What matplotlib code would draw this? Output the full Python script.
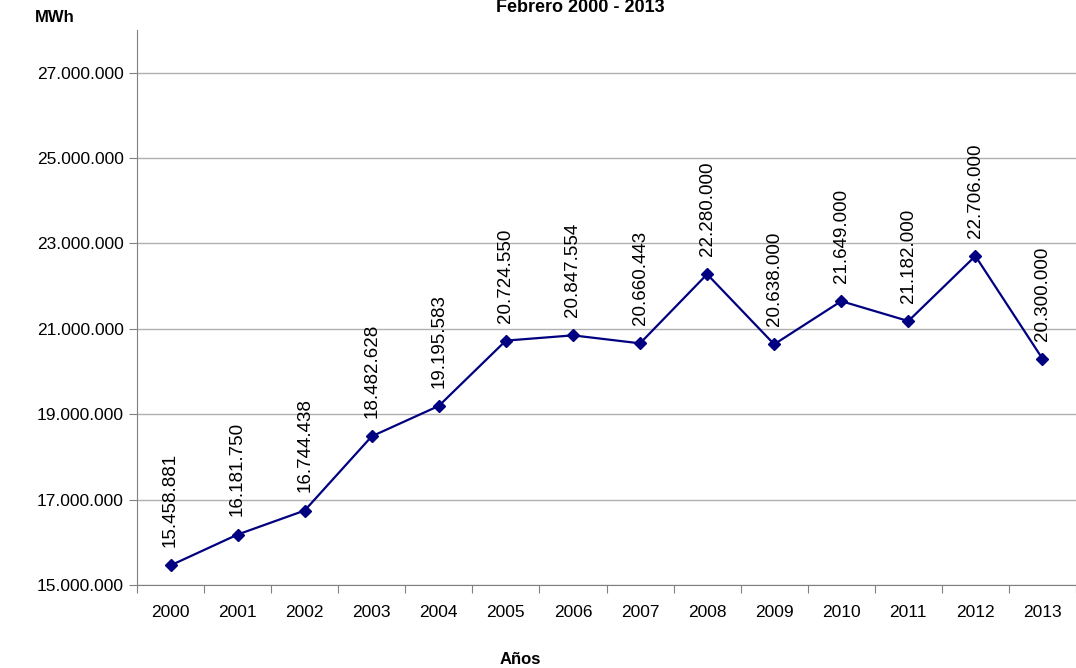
import matplotlib
matplotlib.use("Agg")
import matplotlib.pyplot as plt

years = ["2000","2001","2002","2003","2004","2005","2006","2007","2008","2009","2010","2011","2012","2013"]
values = [15458881,16181750,16744438,18482628,19195583,20724550,20847554,20660443,22280000,20638000,21649000,21182000,22706000,20300000]
yticks = [15000000,17000000,19000000,21000000,23000000,25000000,27000000]

def fmt(v):
    return f"{v:,}".replace(",", ".")

plt.rcParams['font.family'] = ['Liberation Sans', 'DejaVu Sans']
W, H = 1076, 668
fig = plt.figure(figsize=(W/100, H/100), dpi=100)
ax = fig.add_axes([137/W, 1-585/H, 1-137/W, (585-30)/H])
x = list(range(len(years)))
ax.plot(x, values, color='#000080', lw=1.6, marker='D', ms=6.5, zorder=3)
for xi, v in zip(x, values):
    ax.annotate(fmt(v), (xi, v), xytext=(0, 13), textcoords='offset points',
                rotation=90, ha='center', va='bottom', fontsize=13.5)
ax.set_ylim(15000000, 28000000)
ax.set_xlim(-0.5, 13.37)
ax.set_yticks(yticks)
ax.set_yticklabels([fmt(v) for v in yticks], fontsize=12.5)
ax.yaxis.grid(True, color='#b0b0b0', lw=1)
ax.set_axisbelow(True)
ax.set_xticks([i+0.5 for i in range(-1, 14)], minor=False)
ax.set_xticklabels([])
ax.tick_params(axis='x', length=6, color='#808080')
ax.tick_params(axis='y', length=6, color='#808080')
for xi, y in zip(x, years):
    ax.text(xi, -0.05, y, transform=ax.get_xaxis_transform(), ha='center', va='center', fontsize=12.5)
for s in ['top', 'right']:
    ax.spines[s].set_visible(False)
ax.spines['left'].set_color('#808080')
ax.spines['bottom'].set_color('#808080')
fig.text(55/W, 1-18/H, "MWh", fontsize=12, fontweight='bold', ha='center', va='center')
fig.text(520/W, 1-660/H, "Años", fontsize=12, fontweight='bold', ha='center', va='center')
fig.text(580/W, 1-7/H, "Febrero 2000 - 2013", fontsize=13, fontweight='bold', ha='center', va='center')
fig.savefig("out.png", dpi=100)
